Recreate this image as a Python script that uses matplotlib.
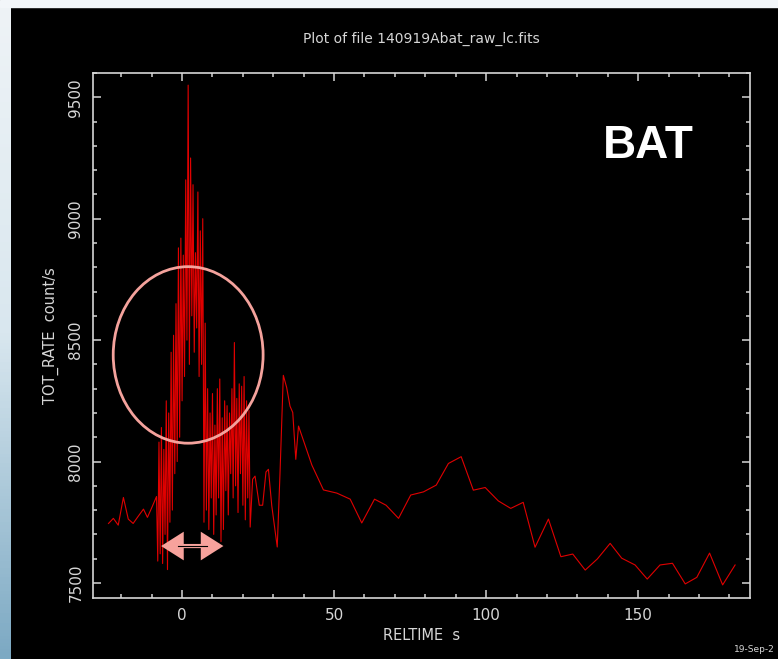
import numpy as np
import matplotlib
matplotlib.use("Agg")
import matplotlib.pyplot as plt
from matplotlib.patches import Ellipse, Rectangle
from matplotlib.colors import LinearSegmentedColormap
from matplotlib.ticker import MultipleLocator

# light curve: early coarse bins (s, count/s)
pre_time = [-24.2, -22.6, -21.0, -19.3, -17.7, -16.1, -14.4, -12.7, -11.4, -9.8]
pre_rate = [7745, 7766, 7738, 7852, 7763, 7745, 7775, 7804, 7770, 7815]

# fine binned part around the burst peak
fine_start = -8.4
fine_dt = 0.4
fine_rate = [
    7856, 7590, 8080, 7620, 8140, 7580, 8050, 7700, 8250, 7555,
    8200, 7750, 8450, 7800, 8520, 7950, 8650, 8000, 8880, 8100,
    8920, 8250, 8850, 8350, 9160, 8500, 9550, 8400, 9250, 8600,
    9140, 8450, 8860, 8550, 9110, 8350, 8950, 8400, 9000, 7750,
    8570, 7800, 8300, 7720, 8200, 7850, 8280, 7700, 8150, 7780,
    8300, 7850, 8340, 7670, 8180, 7720, 8250, 7880, 8230, 7780,
    8200, 7950, 8300, 7850, 8490, 7900, 8260, 7790, 8320, 7950,
    8310, 7820, 8350, 7760, 8250, 7850, 8210, 7730,
]

# later, coarser bins
post_time = [23.2, 24.0, 25.4, 26.5, 27.6, 28.4, 29.5, 31.3, 32.2, 33.3, 34.4,
             35.5, 36.4, 37.4, 38.3, 42.7, 46.5, 50.9, 55.3, 59.1, 63.3, 67.1,
             71.2, 75.2, 79.4, 83.6, 87.6, 91.8, 95.8, 99.7, 104.0, 108.1,
             112.2, 116.1, 120.5, 124.6, 128.5, 132.6, 136.6, 140.8, 144.6,
             149.0, 153.0, 157.2, 161.3, 165.5, 169.3, 173.5, 177.8, 181.9]
post_rate = [7927, 7940, 7820, 7820, 7957, 7968, 7818, 7648, 7948, 8355, 8305,
             8228, 8202, 8009, 8146, 7985, 7883, 7870, 7845, 7747, 7845, 7820,
             7766, 7862, 7875, 7903, 7992, 8020, 7882, 7893, 7838, 7807,
             7832, 7647, 7763, 7608, 7619, 7553, 7599, 7663, 7602,
             7574, 7516, 7574, 7581, 7496, 7523, 7623, 7492, 7574]

fine_time = fine_start + fine_dt * np.arange(len(fine_rate))
time = np.concatenate([pre_time, fine_time, post_time])
rate = np.concatenate([pre_rate, fine_rate, post_rate])

W, H = 778, 659
fig = plt.figure(figsize=(W / 100, H / 100), dpi=100)
fig.patch.set_facecolor("black")

# slide background strips (top and left edges)
fig.patches.append(Rectangle((0, 1 - 7 / H), 1, 7 / H, transform=fig.transFigure,
                             color="#F2F6F9", zorder=0))
strip = fig.add_axes([0, 0, 11 / W, 1 - 7 / H])
cmap = LinearSegmentedColormap.from_list("slide", ["#EEF3F6", "#D9E7EF", "#7CA9C3"])
strip.imshow(np.linspace(0, 1, 200).reshape(-1, 1), cmap=cmap, aspect="auto")
strip.axis("off")

ax = fig.add_axes([93 / W, 61 / H, 657 / W, 525 / H])
ax.set_facecolor("black")
ax.plot(time, rate, color="#E00000", lw=0.8)

ax.set_xlim(-29.3, 186.8)
ax.set_ylim(7438, 9600)

fg = "#D6D6D6"
for s in ax.spines.values():
    s.set_color(fg)
    s.set_linewidth(1.2)
ax.xaxis.set_major_locator(MultipleLocator(50))
ax.xaxis.set_minor_locator(MultipleLocator(10))
ax.yaxis.set_major_locator(MultipleLocator(500))
ax.yaxis.set_minor_locator(MultipleLocator(100))
ax.tick_params(which="both", direction="in", top=True, right=True, colors=fg,
               width=1.1)
ax.tick_params(which="major", length=6, labelsize=11, pad=7)
ax.tick_params(which="minor", length=3)
for lab in ax.get_yticklabels():
    lab.set_rotation(90)
    lab.set_va("center")

ax.set_xlabel("RELTIME  s", color=fg, fontsize=10.5, labelpad=4)
ax.set_ylabel("TOT_RATE  count/s", color=fg, fontsize=10.5, labelpad=7)
ax.set_title("Plot of file 140919Abat_raw_lc.fits", color=fg, fontsize=10, pad=22)

# annotations
ax.add_patch(Ellipse((2.0, 8439), 49.3, 727, fill=False, edgecolor="#F4A29C",
                     lw=2.0, zorder=5))
ax.annotate("", xy=(-6.9, 7652), xytext=(13.6, 7652),
            arrowprops=dict(arrowstyle="<|-|>,head_length=0.6,head_width=0.38",
                            mutation_scale=20, color="#F7A29C", lw=3.0,
                            joinstyle="miter", capstyle="butt",
                            shrinkA=0, shrinkB=0),
            zorder=6)
ax.plot([-1.5, 8.2], [7652, 7652], color="black", lw=0.8, zorder=7)

fig.text(648 / W, 1 - 146 / H, "BAT", ha="center", va="center", color="white",
         fontsize=33, fontweight="bold", family="Liberation Sans")
fig.text(1 - 3 / W, 5 / H, "19-Sep-2", ha="right", va="bottom", color=fg,
         fontsize=6.5)

fig.savefig("out.png", dpi=100, facecolor=fig.get_facecolor())
